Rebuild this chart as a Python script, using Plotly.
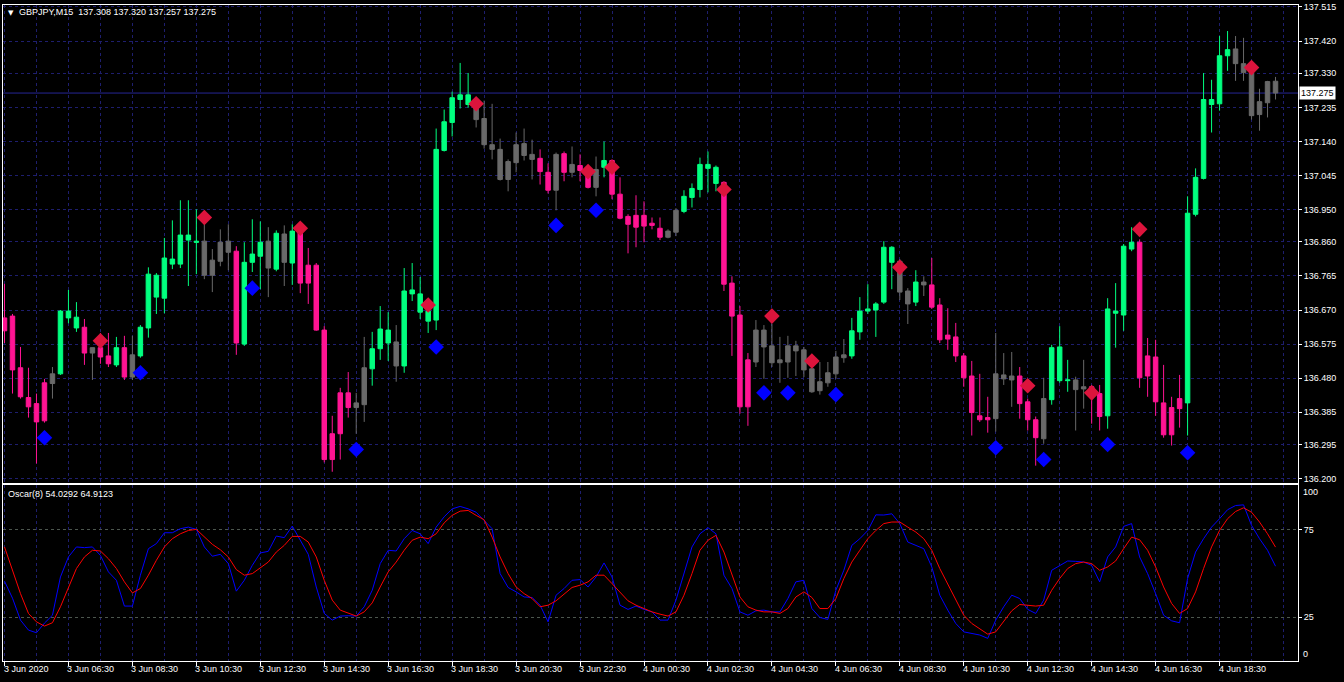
import plotly.graph_objects as go

# ---------------------------------------------------------------- data
symbol_caption = "GBPJPY,M15  137.308 137.320 137.257 137.275"
osc_caption = "Oscar(8) 54.0292 64.9123"
last_price = 137.275

open_ = [
    136.648, 136.653, 136.509, 136.426, 136.409, 136.361, 136.465, 136.492, 136.667, 136.650,
    136.622, 136.550, 136.565, 136.542, 136.517, 136.565, 136.483, 136.542, 136.620, 136.767,
    136.703, 136.812, 136.798, 136.879, 136.862, 136.862, 136.767, 136.806, 136.862, 136.834,
    136.575, 136.803, 136.820, 136.862, 136.784, 136.882, 136.801, 136.890, 136.745, 136.795,
    136.614, 136.253, 136.325, 136.439, 136.398, 136.406, 136.506, 136.562, 136.614, 136.581,
    136.514, 136.726, 136.715, 136.667, 136.642, 137.115, 137.193, 137.257, 137.270, 137.251,
    137.204, 137.131, 137.118, 137.034, 137.081, 137.134, 137.104, 137.093, 137.054, 137.004,
    137.106, 137.054, 137.073, 137.056, 137.012, 137.068, 137.087, 136.993, 136.931, 136.934,
    136.904, 136.912, 136.898, 136.873, 136.887, 136.945, 136.984, 137.006, 137.076, 137.068,
    137.026, 136.745, 136.656, 136.400, 136.525, 136.614, 136.570, 136.523, 136.525, 136.570,
    136.559, 136.506, 136.445, 136.467, 136.492, 136.537, 136.542, 136.609, 136.667, 136.670,
    136.692, 136.845, 136.806, 136.723, 136.692, 136.748, 136.740, 136.684, 136.589, 136.595,
    136.542, 136.486, 136.375, 136.364, 136.367, 136.489, 136.475, 136.486, 136.414, 136.364,
    136.311, 136.420, 136.567, 136.473, 136.475, 136.450, 136.456, 136.437, 136.375, 136.667,
    136.656, 136.840, 136.859, 136.486, 136.539, 136.411, 136.322, 136.395, 136.411, 136.937,
    137.037, 137.257, 137.245, 137.379, 137.398, 137.357, 137.332, 137.215, 137.248, 137.308,
]
high = [
    136.743, 136.659, 136.567, 136.509, 136.437, 136.478, 136.511, 136.670, 136.726, 136.692,
    136.645, 136.565, 136.606, 136.606, 136.595, 136.598, 136.598, 136.628, 136.789, 136.773,
    136.871, 136.920, 136.976, 136.976, 136.951, 136.909, 136.840, 136.895, 136.909, 136.848,
    136.859, 136.923, 136.917, 136.901, 136.892, 136.906, 136.909, 136.895, 136.843, 136.801,
    136.625, 136.375, 136.453, 136.497, 136.439, 136.595, 136.609, 136.681, 136.664, 136.628,
    136.787, 136.801, 136.762, 136.673, 137.176, 137.229, 137.279, 137.359, 137.331, 137.257,
    137.254, 137.245, 137.148, 137.090, 137.165, 137.176, 137.145, 137.118, 137.079, 137.109,
    137.112, 137.126, 137.104, 137.062, 137.098, 137.140, 137.090, 137.040, 136.937, 136.990,
    136.973, 136.928, 136.928, 136.895, 136.954, 137.004, 137.023, 137.095, 137.112, 137.073,
    137.029, 136.764, 136.681, 136.550, 136.642, 136.628, 136.631, 136.595, 136.598, 136.584,
    136.567, 136.525, 136.525, 136.525, 136.556, 136.589, 136.648, 136.706, 136.742, 136.692,
    136.862, 136.848, 136.812, 136.731, 136.781, 136.764, 136.815, 136.703, 136.675, 136.634,
    136.550, 136.528, 136.492, 136.428, 136.606, 136.550, 136.553, 136.511, 136.423, 136.373,
    136.481, 136.573, 136.625, 136.531, 136.484, 136.531, 136.461, 136.461, 136.703, 136.745,
    136.854, 136.901, 136.867, 136.592, 136.587, 136.517, 136.428, 136.489, 136.987, 137.065,
    137.331, 137.312, 137.434, 137.448, 137.434, 137.429, 137.346, 137.287, 137.309, 137.320,
]
low = [
    136.578, 136.437, 136.423, 136.370, 136.242, 136.356, 136.423, 136.489, 136.633, 136.609,
    136.517, 136.475, 136.520, 136.511, 136.511, 136.475, 136.475, 136.537, 136.593, 136.659,
    136.661, 136.784, 136.787, 136.737, 136.770, 136.756, 136.720, 136.792, 136.781, 136.545,
    136.570, 136.776, 136.728, 136.706, 136.778, 136.737, 136.740, 136.717, 136.687, 136.612,
    136.245, 136.219, 136.253, 136.370, 136.325, 136.358, 136.459, 136.531, 136.528, 136.470,
    136.495, 136.695, 136.645, 136.606, 136.614, 137.112, 137.154, 137.232, 137.234, 137.179,
    137.120, 137.090, 137.031, 137.001, 137.054, 137.087, 137.034, 137.020, 136.995, 136.948,
    137.029, 137.040, 137.029, 137.009, 136.987, 137.040, 136.979, 136.923, 136.828, 136.845,
    136.859, 136.895, 136.865, 136.870, 136.876, 136.940, 136.956, 136.984, 136.998, 137.001,
    136.723, 136.542, 136.381, 136.347, 136.511, 136.478, 136.511, 136.467, 136.481, 136.486,
    136.483, 136.439, 136.434, 136.456, 136.478, 136.523, 136.534, 136.587, 136.659, 136.595,
    136.687, 136.728, 136.698, 136.631, 136.681, 136.709, 136.673, 136.578, 136.559, 136.525,
    136.456, 136.320, 136.358, 136.328, 136.331, 136.461, 136.400, 136.367, 136.334, 136.236,
    136.297, 136.406, 136.467, 136.442, 136.334, 136.395, 136.353, 136.334, 136.339, 136.565,
    136.612, 136.834, 136.453, 136.428, 136.375, 136.314, 136.292, 136.342, 136.320, 136.931,
    137.034, 137.165, 137.226, 137.337, 137.309, 137.309, 137.201, 137.170, 137.207, 137.257,
]
close = [
    136.612, 136.503, 136.428, 136.400, 136.358, 136.467, 136.492, 136.667, 136.648, 136.620,
    136.550, 136.565, 136.539, 136.520, 136.565, 136.483, 136.545, 136.622, 136.770, 136.706,
    136.815, 136.798, 136.879, 136.865, 136.859, 136.767, 136.809, 136.859, 136.831, 136.578,
    136.803, 136.826, 136.859, 136.787, 136.884, 136.803, 136.890, 136.745, 136.795, 136.614,
    136.253, 136.325, 136.439, 136.398, 136.411, 136.509, 136.562, 136.617, 136.578, 136.514,
    136.723, 136.715, 136.664, 136.639, 137.118, 137.195, 137.262, 137.270, 137.243, 137.201,
    137.131, 137.118, 137.034, 137.084, 137.131, 137.101, 137.090, 137.056, 137.004, 137.104,
    137.054, 137.076, 137.059, 137.012, 137.062, 137.087, 136.993, 136.926, 136.909, 136.901,
    136.934, 136.906, 136.873, 136.890, 136.948, 136.987, 137.009, 137.076, 137.065, 137.023,
    136.742, 136.653, 136.400, 136.531, 136.614, 136.567, 136.523, 136.531, 136.570, 136.556,
    136.503, 136.442, 136.470, 136.495, 136.539, 136.545, 136.612, 136.667, 136.673, 136.687,
    136.845, 136.803, 136.720, 136.687, 136.748, 136.740, 136.678, 136.587, 136.600, 136.542,
    136.481, 136.384, 136.364, 136.370, 136.492, 136.478, 136.486, 136.409, 136.364, 136.314,
    136.423, 136.565, 136.473, 136.475, 136.448, 136.456, 136.431, 136.373, 136.673, 136.661,
    136.848, 136.859, 136.481, 136.542, 136.414, 136.322, 136.398, 136.423, 136.940, 137.040,
    137.257, 137.243, 137.379, 137.396, 137.357, 137.332, 137.212, 137.251, 137.307, 137.275,
]
# candle tone per bar: g = rising, p = falling, n = neutral
tone = list(
    "ppppppnggg" "pnppgpnggg" "gggggnnnnp" "gggngngppp" "ppppnngggn"
    "gggggggggn" "nnnnnnnppn" "pnppngpppp" "pppnnggggg" "ppppnnnnnn"
    "nnnnnngggg" "ggnngnpppp" "ppppnnnppp" "ngggnnppgg" "ggppppppgg"
    "ggggnnnnnn"
)

# Oscar(8) oscillator: main line and its signal line
osc_main = [
    45.5, 35.8, 23.3, 17.6, 16.1, 21.6, 26.1, 47.9, 59.3, 65.0,
    64.6, 65.0, 60.2, 50.8, 46.0, 31.3, 31.3, 48.9, 64.0, 66.9,
    73.1, 73.1, 75.4, 76.3, 75.0, 65.0, 59.7, 60.8, 55.5, 39.8,
    46.0, 54.5, 61.6, 62.5, 71.2, 70.3, 76.9, 68.8, 60.8, 42.2,
    27.1, 23.3, 25.6, 25.8, 25.6, 30.9, 40.3, 55.5, 63.1, 62.7,
    69.7, 74.4, 72.5, 66.9, 76.3, 82.2, 86.7, 88.1, 86.7, 84.8,
    80.1, 75.4, 49.8, 41.9, 39.4, 36.5, 36.2, 31.8, 22.3, 37.5,
    41.3, 46.0, 46.4, 42.2, 47.9, 55.9, 47.9, 31.8, 29.4, 31.3,
    29.4, 28.0, 23.3, 23.3, 34.7, 49.8, 65.0, 72.5, 76.0, 72.5,
    48.9, 41.3, 28.0, 26.1, 28.6, 29.0, 28.0, 28.0, 35.6, 45.1,
    46.0, 29.9, 24.8, 23.7, 40.3, 51.7, 65.9, 69.7, 74.4, 83.3,
    83.2, 83.9, 78.3, 67.8, 65.9, 64.0, 53.6, 37.5, 29.0, 21.4,
    16.6, 15.7, 14.8, 12.9, 23.3, 30.9, 37.5, 35.6, 29.4, 27.1,
    34.7, 51.7, 54.5, 57.0, 56.8, 56.4, 54.5, 45.1, 59.3, 65.0,
    76.7, 78.3, 59.3, 49.8, 38.4, 26.1, 22.9, 21.8, 47.0, 62.1,
    69.7, 76.3, 81.1, 86.2, 88.6, 89.0, 77.3, 69.7, 63.1, 54.0292,
]
osc_signal = [
    65.0, 51.7, 38.4, 27.1, 22.3, 19.9, 21.8, 30.9, 42.2, 52.7,
    59.3, 63.1, 62.7, 58.3, 52.7, 45.1, 38.8, 41.3, 48.9, 57.4,
    65.0, 69.7, 72.5, 74.4, 75.0, 70.6, 66.5, 63.4, 59.3, 52.1,
    48.9, 49.8, 53.2, 56.4, 62.1, 65.9, 71.0, 71.0, 67.8, 59.3,
    46.0, 34.7, 29.0, 27.1, 25.6, 28.0, 33.1, 42.2, 50.8, 56.4,
    63.1, 68.8, 70.6, 69.7, 72.5, 78.7, 83.0, 85.4, 85.8, 83.0,
    80.5, 70.6, 59.3, 49.8, 42.2, 38.4, 35.6, 30.9, 31.8, 34.3,
    38.1, 41.9, 43.2, 45.1, 48.9, 48.9, 44.1, 39.4, 34.3, 31.8,
    29.9, 28.0, 26.7, 25.6, 28.0, 37.5, 49.8, 63.1, 68.8, 71.6,
    62.1, 49.8, 36.5, 30.9, 29.0, 28.0, 28.0, 27.1, 29.9, 36.5,
    39.4, 36.2, 29.9, 29.9, 35.6, 47.0, 56.4, 63.1, 69.7, 74.4,
    78.3, 79.2, 79.2, 76.3, 73.5, 69.7, 63.1, 52.7, 44.1, 34.7,
    26.1, 21.4, 18.6, 15.3, 16.6, 22.3, 28.6, 32.2, 31.8, 31.3,
    31.8, 40.3, 47.0, 52.7, 55.5, 56.4, 55.5, 51.7, 53.6, 57.0,
    64.0, 70.6, 69.1, 63.1, 53.6, 42.2, 32.8, 27.1, 29.9, 39.4,
    52.7, 65.0, 74.4, 81.1, 85.2, 87.3, 84.8, 79.2, 72.5, 64.9123,
]

# signal arrows (bar index, price)
sell_bars = [12, 25, 37, 53, 59, 73, 76, 90, 96, 101, 112, 128, 136, 142, 156]
sell_price = [136.584, 136.928, 136.898, 136.684, 137.245, 137.056, 137.068, 137.006,
              136.653, 136.528, 136.789, 136.459, 136.439, 136.895, 137.346]
buy_bars = [5, 17, 31, 44, 54, 69, 74, 95, 98, 104, 124, 130, 138, 148]
buy_price = [136.314, 136.495, 136.731, 136.281, 136.567, 136.906, 136.948, 136.439,
             136.439, 136.434, 136.286, 136.253, 136.295, 136.272]

price_ticks = ["137.515", "137.420", "137.330", "137.235", "137.140", "137.045", "136.950",
               "136.860", "136.765", "136.670", "136.575", "136.480", "136.385", "136.295",
               "136.200"]
osc_ticks = ["25", "75"]
time_tick_bars = [0, 8, 16, 24, 32, 40, 48, 56, 64, 72, 80, 88, 96, 104, 112, 120,
                  128, 136, 144, 152]
time_ticks = ["3 Jun 2020", "3 Jun 06:30", "3 Jun 08:30", "3 Jun 10:30", "3 Jun 12:30",
              "3 Jun 14:30", "3 Jun 16:30", "3 Jun 18:30", "3 Jun 20:30", "3 Jun 22:30",
              "4 Jun 00:30", "4 Jun 02:30", "4 Jun 04:30", "4 Jun 06:30", "4 Jun 08:30",
              "4 Jun 10:30", "4 Jun 12:30", "4 Jun 14:30", "4 Jun 16:30", "4 Jun 18:30"]

# ---------------------------------------------------------------- style
W, H = 1344, 682
M_L, M_R, M_T, M_B = 2, 46, 3, 21
PLOT_W = W - M_L - M_R
PLOT_H = H - M_T - M_B
FONT = "Liberation Sans"
GRID = "#1e1e6e"
LEVEL = "#4c564e"
DASH = "3px,3px"
TONE_COLORS = {"g": "#00FF7F", "p": "#FF1493", "n": "#696969"}


def py(px):
    """paper y for a pixel row measured from the top of the page"""
    return (H - M_B - px) / PLOT_H


def pxx(px):
    """paper x for a pixel column measured from the left of the page"""
    return (px - M_L) / PLOT_W


n_bars = len(close)
x_range = [-0.1875, -0.1875 + PLOT_W / 8.0]

fig = go.Figure()

for code, col in TONE_COLORS.items():
    idx = [i for i, t in enumerate(tone) if t == code]
    fig.add_trace(go.Candlestick(
        x=idx,
        open=[open_[i] for i in idx],
        high=[high[i] for i in idx],
        low=[low[i] for i in idx],
        close=[close[i] for i in idx],
        increasing=dict(line=dict(color=col, width=1), fillcolor=col),
        decreasing=dict(line=dict(color=col, width=1), fillcolor=col),
        whiskerwidth=0, hoverinfo="skip", showlegend=False,
        xaxis="x", yaxis="y",
    ))

fig.add_trace(go.Scatter(
    x=sell_bars, y=sell_price, mode="markers",
    marker=dict(symbol="diamond", size=12, color="#DC143C"),
    hoverinfo="skip", showlegend=False, xaxis="x", yaxis="y"))
fig.add_trace(go.Scatter(
    x=buy_bars, y=buy_price, mode="markers",
    marker=dict(symbol="diamond", size=12, color="#0000FF"),
    hoverinfo="skip", showlegend=False, xaxis="x", yaxis="y"))

bars = list(range(n_bars))
fig.add_trace(go.Scatter(
    x=bars, y=osc_main, mode="lines", line=dict(color="#0000FF", width=1),
    hoverinfo="skip", showlegend=False, xaxis="x2", yaxis="y2"))
fig.add_trace(go.Scatter(
    x=bars, y=osc_signal, mode="lines", line=dict(color="#FF0000", width=1),
    hoverinfo="skip", showlegend=False, xaxis="x2", yaxis="y2"))

main_bottom = py(482)
sub_top = py(484)
y_top = 137.515 + (5 - 3) * 1.315 / 473
y_bot = 137.515 - (482 - 5) * 1.315 / 473

axis_common = dict(showline=True, mirror=True, linecolor="white", linewidth=1,
                   zeroline=False, fixedrange=True)

fig.update_layout(
    width=W, height=H, autosize=False,
    margin=dict(l=M_L, r=M_R, t=M_T, b=M_B, pad=0),
    paper_bgcolor="black", plot_bgcolor="black",
    font=dict(family=FONT, size=9, color="white"),
    boxgap=0.2, boxmode="overlay",
    showlegend=False,
    xaxis=dict(domain=[0, 1], anchor="y", range=x_range, rangeslider=dict(visible=False),
               tickmode="linear", tick0=0, dtick=4, ticks="", showticklabels=False,
               showgrid=True, gridcolor=GRID, griddash=DASH, gridwidth=1, **axis_common),
    yaxis=dict(domain=[main_bottom, 1], anchor="x", range=[y_bot, y_top], side="right",
               tickmode="array", tickvals=[float(t) for t in price_ticks], ticktext=price_ticks,
               ticks="outside", ticklen=3, tickcolor="white",
               tickfont=dict(family=FONT, size=9, color="white"),
               showgrid=True, gridcolor=GRID, griddash=DASH, gridwidth=1, **axis_common),
    xaxis2=dict(domain=[0, 1], anchor="y2", range=x_range, rangeslider=dict(visible=False),
                tickmode="array", tickvals=time_tick_bars, ticks="outside", ticklen=4,
                tickcolor="white", showticklabels=False,
                showgrid=True, gridcolor=GRID, griddash=DASH, gridwidth=1,
                minor=dict(tickmode="linear", tick0=0, dtick=4, showgrid=True,
                           gridcolor=GRID, griddash=DASH, ticks=""),
                **axis_common),
    yaxis2=dict(domain=[0, sub_top], anchor="x2", range=[0, 177 / 1.76], side="right",
                tickmode="array", tickvals=[float(t) for t in osc_ticks], ticktext=osc_ticks,
                ticks="outside", ticklen=3, tickcolor="white",
                tickfont=dict(family=FONT, size=9, color="white"),
                showgrid=True, gridcolor=LEVEL, griddash=DASH, gridwidth=1, **axis_common),
)

# last price line and its label
fig.add_shape(type="line", xref="paper", x0=0, x1=1, yref="y", y0=last_price, y1=last_price,
              line=dict(color="#262696", width=1), layer="below")

ann = []
ann.append(dict(xref="paper", x=pxx(1299), yref="y", y=last_price, text=f"{last_price:.3f}",
                showarrow=False, xanchor="left", yanchor="middle", bgcolor="white",
                borderpad=1, font=dict(family=FONT, size=9, color="black")))

# oscillator scale end labels
for txt, ypix in (("100", 491), ("0", 654)):
    ann.append(dict(xref="paper", x=pxx(1301), yref="paper", y=py(ypix), text=txt,
                    showarrow=False, xanchor="left", yanchor="middle",
                    font=dict(family=FONT, size=9, color="white")))

# time labels, left aligned on their tick
for b, txt in zip(time_tick_bars, time_ticks):
    ann.append(dict(xref="x2", x=b, xshift=-3, yref="paper", y=py(669), text=txt,
                    showarrow=False, xanchor="left", yanchor="middle",
                    font=dict(family=FONT, size=9, color="white")))

# window captions
ann.append(dict(xref="paper", x=pxx(5), yref="paper", y=py(11), text="\u25BC",
                showarrow=False, xanchor="left", yanchor="middle",
                font=dict(family="DejaVu Sans", size=7, color="white")))
ann.append(dict(xref="paper", x=pxx(16), yref="paper", y=py(10.5), text=symbol_caption,
                showarrow=False, xanchor="left", yanchor="middle",
                font=dict(family=FONT, size=9, color="white")))
ann.append(dict(xref="paper", x=pxx(5), yref="paper", y=py(493.5), text=osc_caption,
                showarrow=False, xanchor="left", yanchor="middle",
                font=dict(family=FONT, size=9, color="white")))

fig.update_layout(annotations=ann)

fig.write_html("out.html", config={"displayModeBar": False})
